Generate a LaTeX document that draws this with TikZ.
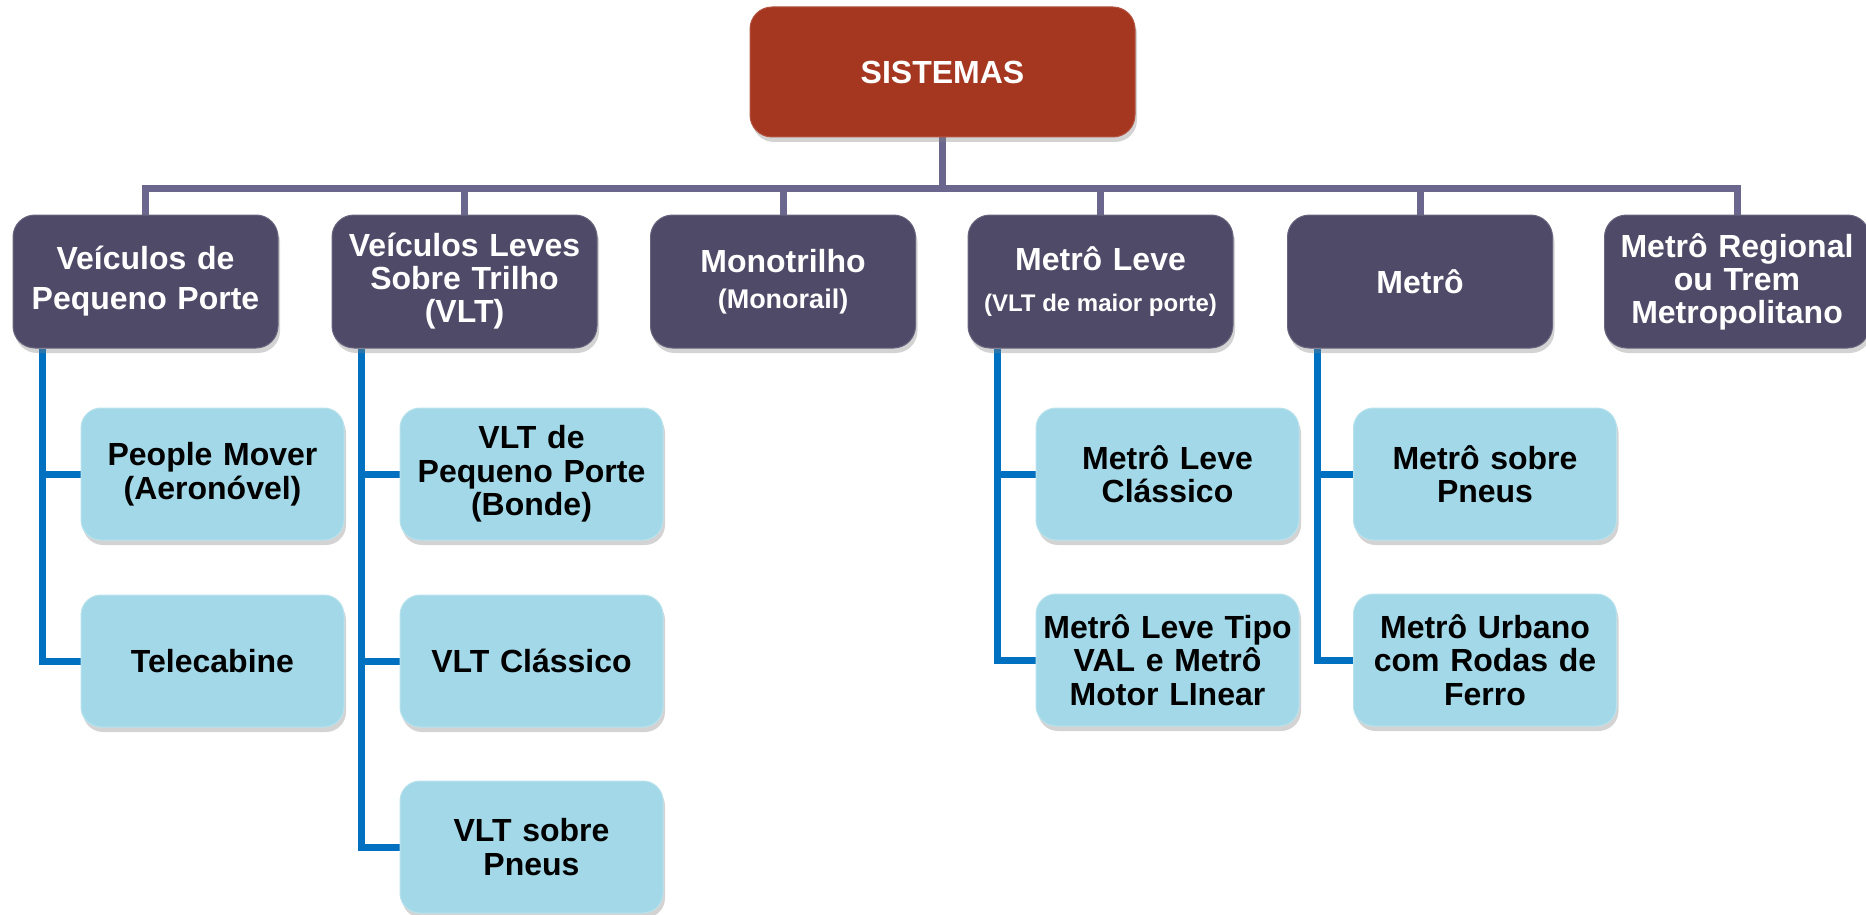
\documentclass[tikz,border=0pt]{standalone}
\usepackage{fontspec}
\setmainfont{Liberation Sans}
\usetikzlibrary{shadows,backgrounds}
\definecolor{rootc}{HTML}{A5361F}
\definecolor{catc}{HTML}{4E4A67}
\definecolor{subc}{HTML}{A2D8E7}
\definecolor{purpc}{HTML}{6A668E}
\definecolor{bluec}{HTML}{0070C0}
\begin{document}
\begin{tikzpicture}[x=1pt,y=-1pt,
 ls/.style={font=\bfseries\fontsize{32}{#1}\selectfont},
 box/.style={rounded corners=22pt, inner sep=0pt, align=center, ls=34,
   drop shadow={shadow xshift=2pt,shadow yshift=-5pt,opacity=0.35}},
 rootbox/.style={box, fill=rootc, draw=rootc!85!white, line width=1pt, text=white,
   minimum width=385pt, minimum height=130pt, text width=370pt},
 catbox/.style={box, fill=catc, draw=catc!85!white, line width=1pt, text=white,
   minimum width=265pt, minimum height=133pt, text width=258pt},
 subbox/.style={box, rounded corners=20pt, fill=subc, draw=subc!75!white, line width=1pt, text=black,
   minimum width=263pt, minimum height=132pt, text width=256pt},
 purp/.style={draw=purpc, line width=7pt},
 blu/.style={draw=bluec, line width=7pt},
]
\useasboundingbox (0,0) rectangle (1866,915);

\node[rootbox] (root) at (942.5,72) {SISTEMAS};

\node[catbox, ls=40] (c1) at (145.5,281.5) {Veículos de\\Pequeno Porte};
\node[catbox, ls=33] (c2) at (464.5,281.5) {Veículos Leves\\Sobre Trilho\\(VLT)};
\node[catbox, ls=36] (c3) at (783,281.5) {Monotrilho\\\mbox{\fontsize{27}{30}\selectfont(Monorail)}};
\node[catbox, ls=41] (c4) at (1100.5,281.5) {Metrô Leve\\\mbox{\fontsize{24}{28}\selectfont\spaceskip=0pt\xspaceskip=0pt (VLT de maior porte)}};
\node[catbox] (c5) at (1420,281.5) {Metrô};
\node[catbox, ls=33] (c6) at (1737,281.5) {Metrô Regional\\ou Trem\\Metropolitano};

\node[subbox, ls=33.5] (s1a) at (212.5,474) {People Mover\\(Aeronóvel)};
\node[subbox] (s1b) at (212.5,661) {Telecabine};
\node[subbox, ls=33.5] (s2a) at (531.5,474) {VLT de\\Pequeno Porte\\(Bonde)};
\node[subbox] (s2b) at (531.5,661) {VLT Clássico};
\node[subbox, ls=33.5] (s2c) at (531.5,847) {VLT sobre\\Pneus};
\node[subbox, ls=33.5] (s4a) at (1167.5,474) {Metrô Leve\\Clássico};
\node[subbox, ls=33.5] (s4b) at (1167.5,660) {Metrô Leve Tipo\\VAL e Metrô\\Motor LInear};
\node[subbox, ls=33.5] (s5a) at (1485,474) {Metrô sobre\\Pneus};
\node[subbox, ls=33.5] (s5b) at (1485,660) {Metrô Urbano\\com Rodas de\\Ferro};

\begin{scope}[on background layer]
\coordinate (bar) at (0,188);
\foreach \c in {c1,c2,c3,c4,c5,c6}
  \draw[purp] (root.south) -- (root.south |- bar) -| (\c.north);

\coordinate (t1) at ([xshift=30pt]c1.south west);
\coordinate (t2) at ([xshift=30pt]c2.south west);
\coordinate (t4) at ([xshift=30pt]c4.south west);
\coordinate (t5) at ([xshift=30pt]c5.south west);

\draw[blu] (t1) |- (s1b.west);
\draw[blu] (t1 |- s1a.west) -- (s1a.west);

\draw[blu] (t2) |- (s2c.west);
\draw[blu] (t2 |- s2a.west) -- (s2a.west);
\draw[blu] (t2 |- s2b.west) -- (s2b.west);

\draw[blu] (t4) |- (s4b.west);
\draw[blu] (t4 |- s4a.west) -- (s4a.west);

\draw[blu] (t5) |- (s5b.west);
\draw[blu] (t5 |- s5a.west) -- (s5a.west);
\end{scope}
\end{tikzpicture}
\end{document}
